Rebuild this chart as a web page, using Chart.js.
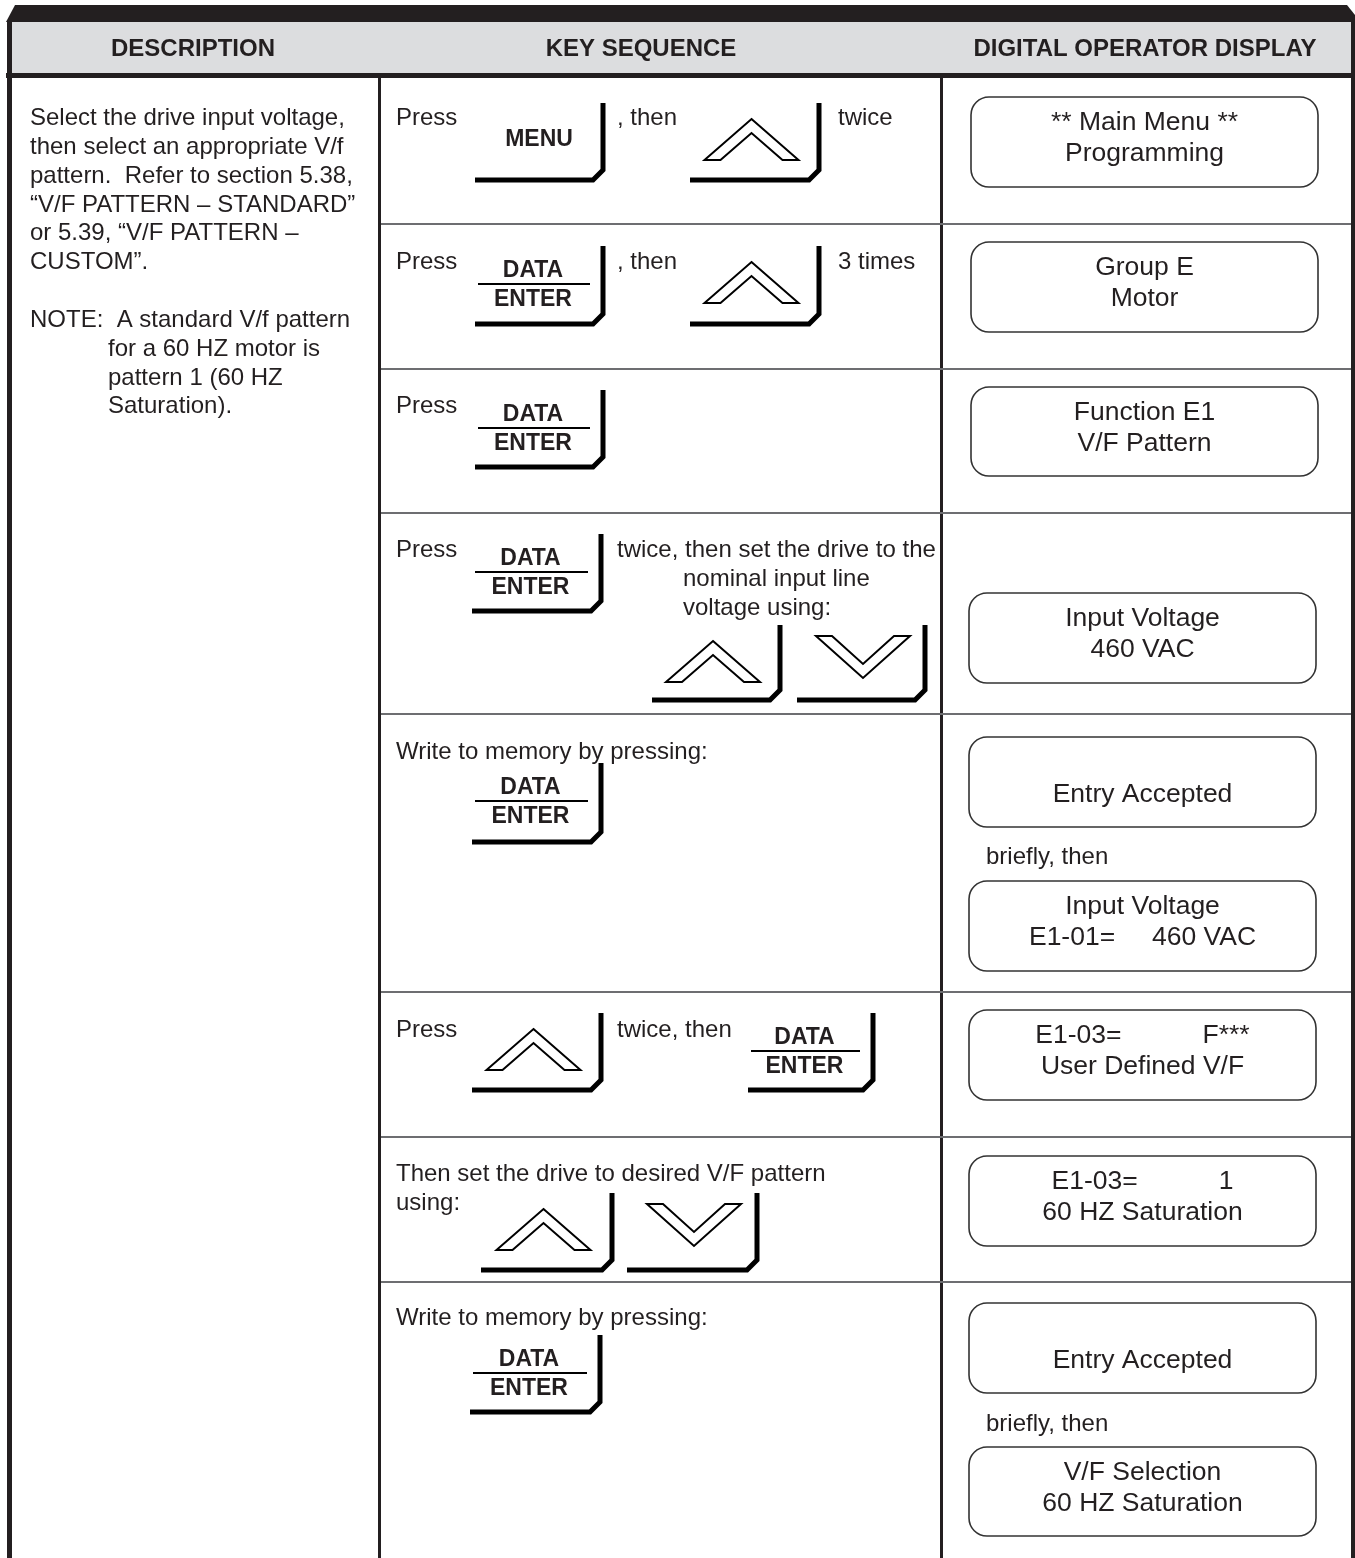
<!DOCTYPE html>
<html>
<head>
<meta charset="utf-8">
<script src="https://cdn.jsdelivr.net/npm/chart.js@4.4.1/dist/chart.umd.min.js"></script>
<style>
  html, body { margin: 0; padding: 0; background: #fff; }
  #wrap { width: 1355px; height: 1558px; }
</style>
</head>
<body>
<div id="wrap"><canvas id="c" width="1355" height="1558"></canvas></div>
<script>
// ── content ─────────────────────────────────────────────
const headers = ['DESCRIPTION', 'KEY SEQUENCE', 'DIGITAL OPERATOR DISPLAY'];

const descriptionLines = [
  'Select the drive input voltage,',
  'then select an appropriate V/f',
  'pattern.  Refer to section 5.38,',
  '\u201cV/F PATTERN \u2013 STANDARD\u201d',
  'or 5.39, \u201cV/F PATTERN \u2013',
  'CUSTOM\u201d.',
];
const noteLines = [
  'NOTE:  A standard V/f pattern',
  'for a 60 HZ motor is',
  'pattern 1 (60 HZ',
  'Saturation).',
];

const stepWords = [
  ['Press', ', then', 'twice'],
  ['Press', ', then', '3 times'],
  ['Press'],
  ['Press', 'twice, then set the drive to the', 'nominal input line', 'voltage using:'],
  ['Write to memory by pressing:'],
  ['Press', 'twice, then'],
  ['Then set the drive to desired V/F pattern', 'using:'],
  ['Write to memory by pressing:'],
];

const stepKeys = [
  ['MENU', 'UP'],
  ['DATA/ENTER', 'UP'],
  ['DATA/ENTER'],
  ['DATA/ENTER', 'UP', 'DOWN'],
  ['DATA/ENTER'],
  ['UP', 'DATA/ENTER'],
  ['UP', 'DOWN'],
  ['DATA/ENTER'],
];

const displayScreens = [
  [['** Main Menu **', 'Programming']],
  [['Group E', 'Motor']],
  [['Function E1', 'V/F Pattern']],
  [['Input Voltage', '460 VAC']],
  [['Entry Accepted'], ['Input Voltage', 'E1-01=     460 VAC']],
  [['E1-03=           F***', 'User Defined V/F']],
  [['E1-03=           1', '60 HZ Saturation']],
  [['Entry Accepted'], ['V/F Selection', '60 HZ Saturation']],
];
const brieflyText = 'briefly, then';

// ── layout (page units, mapped through the chart scales) ─
const colCenters = [193, 641, 1145];
const rowLines = [224, 369, 513, 714, 992, 1137, 1282];
const descTops = [116, 145, 174, 203, 231, 260];
const noteTops = [318, 347, 376, 404];

const wordPos = [
  [[396, 116], [617, 116], [838, 116]],
  [[396, 260], [617, 260], [838, 260]],
  [[396, 404]],
  [[396, 548], [617, 548], [683, 577], [683, 606]],
  [[396, 750]],
  [[396, 1028], [617, 1028]],
  [[396, 1172], [396, 1201]],
  [[396, 1316]],
];
// key boxes: [left, top, right, bottom]
const keyPos = [
  [[475, 103, 603, 180], [690, 103, 819, 180]],
  [[475, 246, 603, 324], [690, 246, 819, 324]],
  [[475, 390, 603, 467]],
  [[472, 534, 601, 611], [652, 625, 780, 700], [797, 625, 925, 700]],
  [[472, 763, 601, 842]],
  [[472, 1013, 601, 1090], [748, 1013, 873, 1090]],
  [[481, 1193, 612, 1270], [627, 1193, 757, 1270]],
  [[470, 1335, 600, 1412]],
];
// display boxes: [left, top, right, bottom]
const screenPos = [
  [[971, 97, 1318, 187]],
  [[971, 242, 1318, 332]],
  [[971, 387, 1318, 476]],
  [[969, 593, 1316, 683]],
  [[969, 737, 1316, 827], [969, 881, 1316, 971]],
  [[969, 1010, 1316, 1100]],
  [[969, 1156, 1316, 1246]],
  [[969, 1303, 1316, 1393], [969, 1447, 1316, 1536]],
];
const brieflyPos = [[], [], [], [], [986, 855], [], [], [986, 1422]];

const INK = '#231f20';
const FONT = "'Liberation Sans', Arial, Helvetica, sans-serif";
const BODY = 24, HEAD = 24, KEY = 23, LCD = 26.5;

const tablePlugin = {
  id: 'operatorTable',
  afterDraw(chart) {
    const ctx = chart.ctx;
    const xs = chart.scales.x, ys = chart.scales.y;
    const X = v => xs.getPixelForValue(v);
    const Y = v => ys.getPixelForValue(v);

    // text helper: y = vertical middle of capitals
    function text(str, x, y, size, bold, align) {
      ctx.font = (bold ? 'bold ' : '') + size + 'px ' + FONT;
      ctx.fillStyle = INK;
      ctx.textAlign = align || 'left';
      ctx.textBaseline = 'alphabetic';
      ctx.fillText(str, X(x), Y(y) + size * 0.358);
    }
    function poly(pts, fill) {
      ctx.beginPath();
      pts.forEach((p, i) => i ? ctx.lineTo(X(p[0]), Y(p[1])) : ctx.moveTo(X(p[0]), Y(p[1])));
      ctx.closePath();
      ctx.fillStyle = fill;
      ctx.fill();
    }
    function rect(x0, y0, x1, y1, fill) {
      ctx.fillStyle = fill;
      ctx.fillRect(X(x0), Y(y0), X(x1) - X(x0), Y(y1) - Y(y0));
    }

    // frame
    poly([[6, 22], [15, 5], [1347, 5], [1355, 15], [1355, 22]], INK);
    rect(12, 22, 1351, 73, '#dcdddf');
    rect(6, 73, 1355, 78, INK);
    rect(7, 22, 12, 1558, INK);
    rect(1351, 22, 1355, 1558, INK);
    rect(378, 78, 381, 1558, INK);
    rect(940, 78, 943, 1558, INK);
    ctx.strokeStyle = '#6d6e71';
    ctx.lineWidth = 2;
    rowLines.forEach(y => {
      ctx.beginPath();
      ctx.moveTo(X(381), Y(y));
      ctx.lineTo(X(1351), Y(y));
      ctx.stroke();
    });

    headers.forEach((h, i) => text(h, colCenters[i], 47, HEAD, true, 'center'));

    descriptionLines.forEach((s, i) => text(s, 30, descTops[i], BODY, false));
    noteLines.forEach((s, i) => text(s, i ? 108 : 30, noteTops[i], BODY, false));

    // keys
    function keyFrame(L, T, R, B) {
      ctx.strokeStyle = '#000';
      ctx.lineWidth = 5;
      ctx.lineJoin = 'miter';
      ctx.beginPath();
      ctx.moveTo(X(R), Y(T));
      ctx.lineTo(X(R), Y(B - 10));
      ctx.lineTo(X(R - 10), Y(B));
      ctx.lineTo(X(L), Y(B));
      ctx.stroke();
    }
    function chevron(cx, T, up) {
      const pts = up
        ? [[cx, T + 16], [cx + 47, T + 57], [cx + 31, T + 57], [cx, T + 30], [cx - 31, T + 57], [cx - 47, T + 57]]
        : [[cx - 47, T + 11], [cx - 31, T + 11], [cx, T + 39], [cx + 31, T + 11], [cx + 47, T + 11], [cx, T + 53]];
      ctx.beginPath();
      pts.forEach((p, i) => i ? ctx.lineTo(X(p[0]), Y(p[1])) : ctx.moveTo(X(p[0]), Y(p[1])));
      ctx.closePath();
      ctx.fillStyle = '#fff';
      ctx.fill();
      ctx.strokeStyle = '#000';
      ctx.lineWidth = 2;
      ctx.lineJoin = 'miter';
      ctx.stroke();
    }
    function key(type, L, T, R, B) {
      keyFrame(L, T, R, B);
      const cx = (L + R) / 2;
      if (type === 'MENU') {
        text('MENU', cx, T + 35, KEY, true, 'center');
      } else if (type === 'DATA/ENTER') {
        text('DATA', cx - 6, T + 23, KEY, true, 'center');
        ctx.strokeStyle = '#000';
        ctx.lineWidth = 2;
        ctx.beginPath();
        ctx.moveTo(X(L + 3), Y(T + 38));
        ctx.lineTo(X(R - 13), Y(T + 38));
        ctx.stroke();
        text('ENTER', cx - 6, T + 52, KEY, true, 'center');
      } else if (type === 'UP') {
        chevron(cx - 3, T, true);
      } else {
        chevron(cx + 2, T, false);
      }
    }

    stepWords.forEach((words, r) => {
      words.forEach((w, i) => text(w, wordPos[r][i][0], wordPos[r][i][1], BODY, false));
      stepKeys[r].forEach((k, i) => key(k, ...keyPos[r][i]));
    });

    // operator display screens
    function screen(lines, L, T, R, B) {
      ctx.beginPath();
      ctx.roundRect(X(L), Y(T), X(R) - X(L), Y(B) - Y(T), 18);
      ctx.strokeStyle = '#333';
      ctx.lineWidth = 1.6;
      ctx.stroke();
      const cx = (L + R) / 2, cy = (T + B) / 2;
      if (lines.length === 1) {
        text(lines[0], cx, cy + 11, LCD, false, 'center');
      } else {
        text(lines[0], cx, cy - 21, LCD, false, 'center');
        text(lines[1], cx, cy + 10, LCD, false, 'center');
      }
    }
    displayScreens.forEach((set, r) => {
      set.forEach((lines, i) => screen(lines, ...screenPos[r][i]));
      if (brieflyPos[r].length) text(brieflyText, brieflyPos[r][0], brieflyPos[r][1], BODY, false);
    });
  },
};

new Chart(document.getElementById('c'), {
  type: 'scatter',
  data: { datasets: [{ data: [], pointRadius: 0 }] },
  options: {
    responsive: false,
    animation: false,
    devicePixelRatio: 1,
    events: [],
    layout: { padding: 0 },
    plugins: { legend: { display: false }, tooltip: { enabled: false } },
    scales: {
      x: { type: 'linear', min: 0, max: 1355, display: false },
      y: { type: 'linear', min: 0, max: 1558, reverse: true, display: false },
    },
  },
  plugins: [tablePlugin],
});
</script>
</body>
</html>
